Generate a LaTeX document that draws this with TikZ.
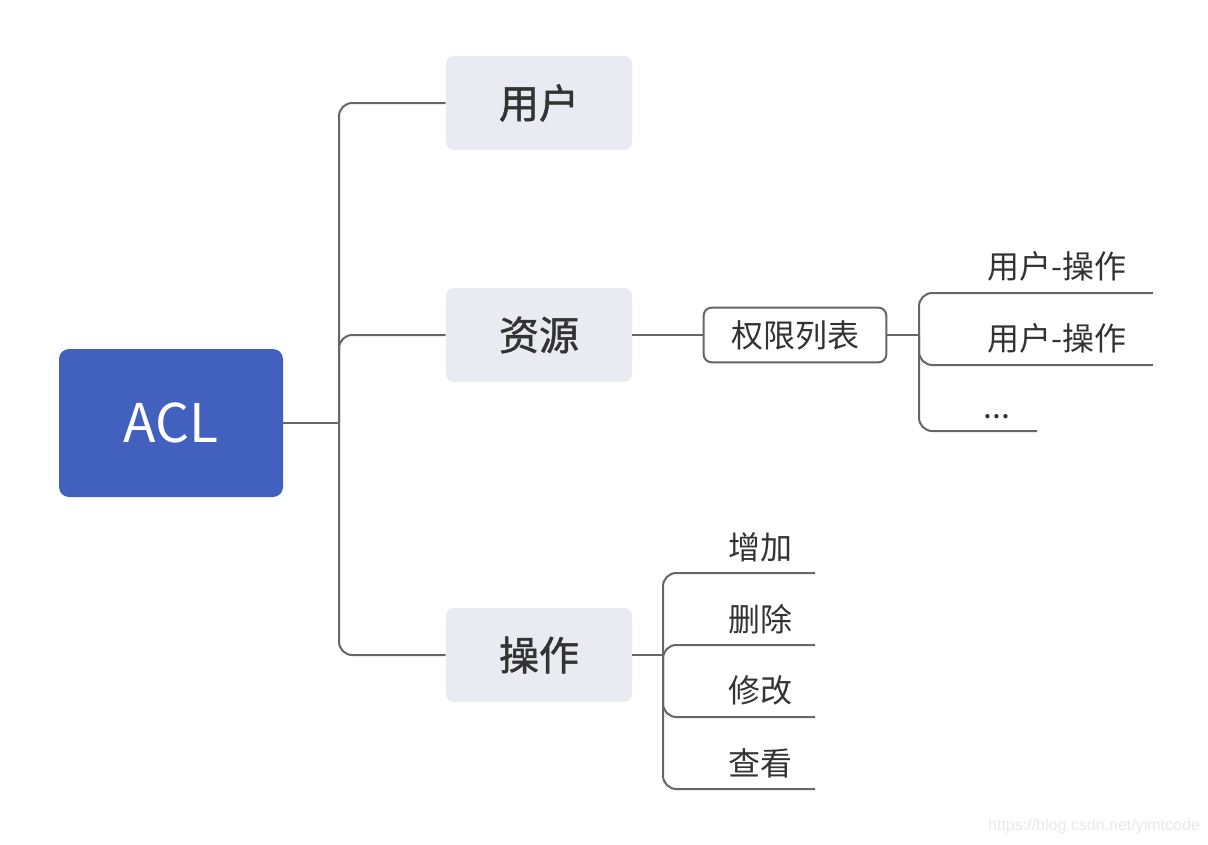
\documentclass[tikz,border=0pt]{standalone}
\usepackage{fontspec}
\setmainfont{Noto Sans CJK SC}
\newfontfamily\medfont{Noto Sans CJK SC}[FakeBold=1.2]
\newfontfamily\markfont{Liberation Sans}
\usetikzlibrary{positioning}
\definecolor{aclblue}{HTML}{4260BD}
\definecolor{boxgray}{HTML}{EAEAF2}
\definecolor{linegray}{HTML}{666666}
\definecolor{txtgray}{HTML}{333333}
\tikzset{
    root/.style={fill=aclblue, rounded corners=7.5pt, minimum width=168pt, minimum height=111pt, text=white, font=\fontsize{40}{48}\selectfont},
    topic/.style={fill=boxgray, rounded corners=6pt, minimum width=139.5pt, minimum height=70.5pt, text=txtgray, font=\medfont\fontsize{30}{36}\selectfont},
    sublist/.style={draw=linegray, line width=1.5pt, fill=white, rounded corners=6pt, minimum width=137pt, minimum height=41pt, text=txtgray, font=\fontsize{24}{28}\selectfont},
    leaf/.style={text=txtgray, font=\fontsize{24}{28}\selectfont, inner sep=0pt},
    branch/.style={draw=linegray, line width=1.5pt, rounded corners=10pt}
}

\begin{document}
\begin{tikzpicture}[x=0.75pt, y=-0.75pt]
    \useasboundingbox (0,0) rectangle (1208,844);

    % Root and main topics
    \node[root] (acl) at (171,423) {ACL};
    \node[topic] (user) at (539,103) {用户};
    \node[topic] (res) at (539,335) {资源};
    \node[topic] (op) at (539,655) {操作};
    \node[sublist] (perms) at (795,335) {权限列表};

    % Junctions and line ends
    \coordinate (trunk) at (339,423);
    \coordinate (permj) at (919,335);
    \coordinate (opj) at (663,655);
    \coordinate (perm1-e) at (1153,293);
    \coordinate (perm2-e) at (1153,365);
    \coordinate (perm3-e) at (1037,431);
    \coordinate (add-e) at (815,573);
    \coordinate (del-e) at (815,645);
    \coordinate (mod-e) at (815,717);
    \coordinate (view-e) at (815,789);

    % Leaf labels
    \node[leaf] (perm1) at (1057,266) {用户-操作};
    \node[leaf] (perm2) at (1057,338) {用户-操作};
    \node[leaf, anchor=west] (perm3) at (983,417) {...};
    \node[leaf] (add) at (760,547) {增加};
    \node[leaf] (del) at (760,619) {删除};
    \node[leaf] (mod) at (760,690) {修改};
    \node[leaf] (view) at (760,763) {查看};

    % Connectors
    \draw[branch] (acl.east) -- (trunk);
    \draw[branch] (trunk) |- (user.west);
    \draw[branch] (trunk) |- (res.west);
    \draw[branch] (trunk) |- (op.west);
    \draw[branch] (res.east) -- (perms.west);
    \draw[branch] (perms.east) -- (permj);
    \draw[branch] (permj) |- (perm1-e);
    \draw[branch] (permj) |- (perm2-e);
    \draw[branch] (permj) |- (perm3-e);
    \draw[branch] (op.east) -- (opj);
    \draw[branch] (opj) |- (add-e);
    \draw[branch] (opj) |- (del-e);
    \draw[branch] (opj) |- (mod-e);
    \draw[branch] (opj) |- (view-e);

    % Watermark
    \node[text=black!9, font=\markfont\fontsize{12}{14}\selectfont] (mark) at (1094,826) {https://blog.csdn.net/yimtcode};
\end{tikzpicture}
\end{document}
